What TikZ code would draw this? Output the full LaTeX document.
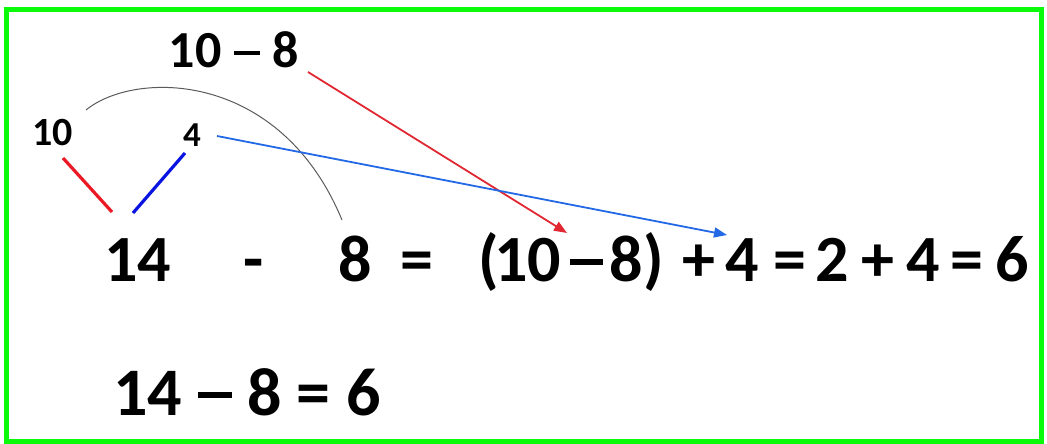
\documentclass[tikz,border=0pt]{standalone}
\usepackage{fontspec}
\setmainfont{Carlito}
\usetikzlibrary{arrows.meta}
\definecolor{frame}{RGB}{10,250,10}
\definecolor{vred}{RGB}{235,25,35}
\definecolor{vblue}{RGB}{10,20,225}
\definecolor{ared}{RGB}{225,40,50}
\definecolor{ablue}{RGB}{35,105,230}
\definecolor{arcgray}{RGB}{90,90,90}
\newcommand{\wdash}{\rule[0.245em]{0.5em}{0.09em}}
\tikzset{
  tok/.style={inner sep=0pt, anchor=base, font=\bfseries\fontsize{66}{70}\selectfont},
  toptxt/.style={inner sep=0pt, anchor=base, font=\bfseries\fontsize{52}{56}\selectfont},
  smalltxt/.style={inner sep=0pt, anchor=base, font=\bfseries\fontsize{40}{44}\selectfont},
  bottxt/.style={inner sep=0pt, anchor=base, font=\bfseries\fontsize{68}{72}\selectfont},
  vline/.style={line width=3.2pt},
  arrowline/.style={line width=1.8pt, -{Triangle[length=13pt,width=10pt]}},
}
\begin{document}
\begin{tikzpicture}[x=1pt,y=-1pt]
\useasboundingbox (0,0) rectangle (1047,444);
\draw[frame, line width=5pt] (6.5,9.5) rectangle (1041.5,441.5);

% top labels
\node[toptxt] (top) at (234,68) {10\hspace{0.24em}\wdash\hspace{0.24em}8};
\node[smalltxt] (ten) at (52.5,145) {10};
\node[inner sep=0pt, anchor=base, font=\bfseries\fontsize{35}{38}\selectfont] (four) at (192,146) {4};

% main line
\node[tok] (m14) at (137.5,281) {14};
\node[tok] (mminus) at (253.5,281) {-};
\node[tok] (m8) at (355,281) {8};
\node[tok] (meqa) at (416.5,281) {=};
\node[tok] (mlp) at (489,281) {(};
\node[tok] (m10) at (527.5,281) {10};
\node[tok] (mdash) at (586,281) {\wdash};
\node[tok] (m8b) at (626.5,281) {8};
\node[tok] (mrp) at (653.5,281) {)};
\node[tok] (mplusa) at (698.5,281) {+};
\node[tok] (m4a) at (742,281) {4};
\node[tok] (meqb) at (790,281) {=};
\node[tok] (m2) at (832.5,281) {2};
\node[tok] (mplusb) at (877.5,281) {+};
\node[tok] (m4b) at (923,281) {4};
\node[tok] (meqc) at (966.5,281) {=};
\node[tok] (m6) at (1012.5,281) {6};

% bottom line
\node[bottxt] (bot) at (247,415) {14 \wdash{} 8 = 6};

% decomposition lines
\coordinate (r1) at (63,158);
\coordinate (r2) at (112,212);
\coordinate (b1) at (185,153);
\coordinate (b2) at (133,213);
\draw[vred, vline] (r1) -- (r2);
\draw[vblue, vline] (b1) -- (b2);

% arc
\coordinate (a0) at (86,110);
\coordinate (a3) at (342,220);
\draw[arcgray, line width=1pt] (a0) .. controls (135,70) and (280,70) .. (a3);

% arrows
\coordinate (ra0) at (308,72);
\coordinate (ra1) at (567,233);
\coordinate (ba0) at (217,136);
\coordinate (ba1) at (727,235);
\draw[ared, arrowline] (ra0) -- (ra1);
\draw[ablue, arrowline] (ba0) -- (ba1);
\end{tikzpicture}
\end{document}
